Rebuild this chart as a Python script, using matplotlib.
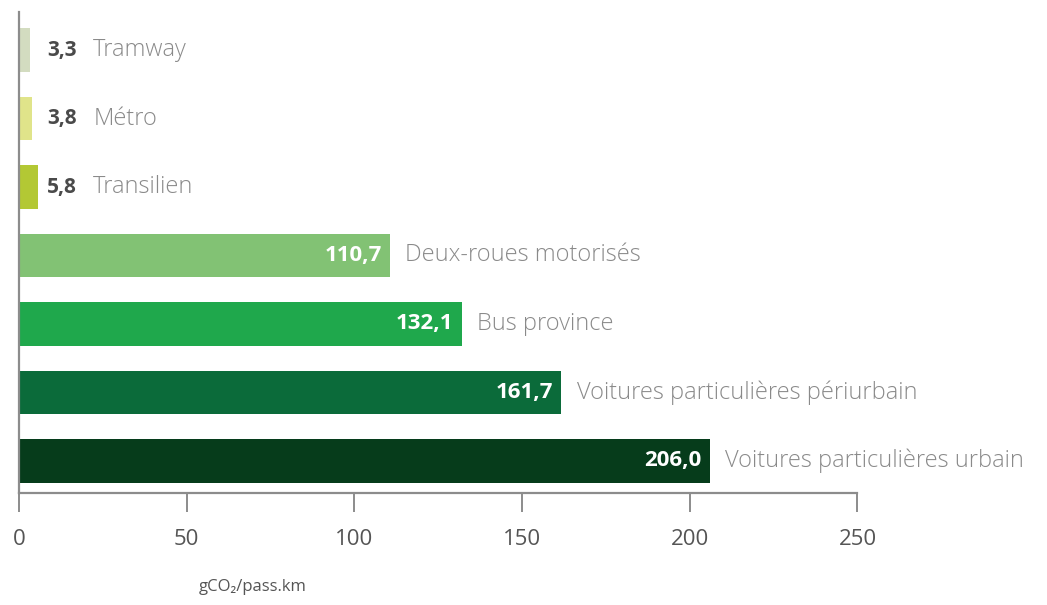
import matplotlib.pyplot as plt
from matplotlib import font_manager

# emissions par mode de transport, en gCO2 par passager.km
modes = ["Tramway", "Métro", "Transilien", "Deux-roues motorisés", "Bus province",
         "Voitures particulières périurbain", "Voitures particulières urbain"]
emissions = [3.3, 3.8, 5.8, 110.7, 132.1, 161.7, 206.0]
colors = ["#d3dcc0", "#e0e48a", "#b3c834", "#82c274", "#1fa84c", "#0b6b3a", "#063c1b"]
xticks = [0, 50, 100, 150, 200, 250]

names = {f.name for f in font_manager.fontManager.ttflist}
narrow = "Liberation Sans Narrow" if "Liberation Sans Narrow" in names else "Open Sans"
plt.rcParams["font.family"] = [narrow, "DejaVu Sans"]

fig = plt.figure(figsize=(10.47, 6.05), dpi=100)
ax = fig.add_axes([0.018, 0.185, 0.801, 0.795])

pos = list(range(len(modes)))
ax.barh(pos, emissions, height=0.64, color=colors)
ax.set_ylim(6.47, -0.555)
ax.set_xlim(0, 250)

def fmt(v):
    return f"{v:.1f}".replace(".", ",")

for i, (v, name) in enumerate(zip(emissions, modes)):
    if v < 20:
        # small bars: value and name both sit to the right
        ax.text(8.5, i, fmt(v), ha="left", va="center", fontsize=15,
                fontweight="bold", color="#4a4a4a")
        ax.text(22.2, i, name, ha="left", va="center", fontsize=17, color="#8a8a8a",
                family=["Open Sans", "DejaVu Sans"], fontweight="light")
    else:
        ax.annotate(fmt(v), (v, i), xytext=(-6, 0), textcoords="offset points",
                    ha="right", va="center", fontsize=16, fontweight="bold", color="white")
        ax.annotate(name, (v, i), xytext=(11, 0), textcoords="offset points",
                    ha="left", va="center", fontsize=17, color="#8a8a8a",
                    family=["Open Sans", "DejaVu Sans"], fontweight="light")

for s in ["top", "right"]:
    ax.spines[s].set_visible(False)
for s in ["left", "bottom"]:
    ax.spines[s].set_color("#8c8c8c")
    ax.spines[s].set_linewidth(1.6)

ax.set_yticks([])
ax.set_xticks(xticks)
ax.set_xticklabels([str(t) for t in xticks])
ax.tick_params(axis="x", length=14, width=1.4, color="#8c8c8c", pad=12,
               labelsize=16, labelcolor="#555555")

ax.set_xlabel("gCO₂/pass.km", fontsize=12, color="#555555")
ax.xaxis.set_label_coords(0.279, -0.178)

fig.savefig("out.png", dpi=100, facecolor="white")
